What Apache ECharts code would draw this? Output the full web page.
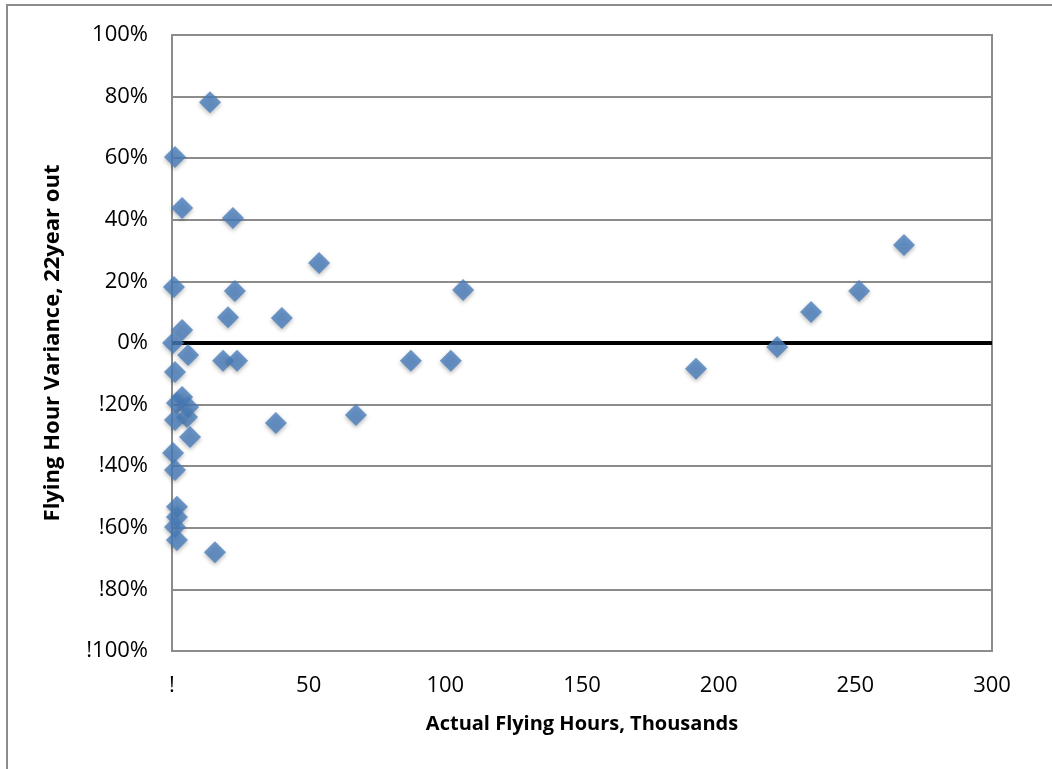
<!DOCTYPE html>
<html>
<head>
<meta charset="utf-8">
<script src="https://cdn.jsdelivr.net/npm/echarts@6/dist/echarts.min.js"></script>
<style>
  html, body { margin: 0; padding: 0; background: #fff; }
  #chart { width: 1052px; height: 769px; }
</style>
</head>
<body>
<div id="chart"></div>
<script>
// flying hours (thousands) and variance (%)
const hours = [
  13.9, 1.1, 3.7, 22.3, 0.7, 23.0, 20.5, 3.7, 0.4,
  18.7, 23.8, 5.9, 1.1, 3.7, 1.8, 5.9, 5.5, 1.1, 6.6, 0.4, 1.1,
  1.8, 1.8, 1.1, 1.8, 15.7,
  53.8, 106.5, 40.2, 87.4, 102.0, 67.3, 38.0,
  267.8, 251.4, 233.8, 221.4, 191.7
]
const variance = [
  78.2, 60.4, 43.8, 40.6, 18.2, 16.9, 8.4, 4.2, 0,
  -5.8, -5.8, -3.9, -9.4, -17.5, -19.5, -20.8, -24.0, -25.0, -30.5, -35.7, -41.2,
  -53.2, -56.5, -59.7, -64.0, -67.9,
  26.0, 17.2, 8.1, -5.8, -5.8, -23.4, -26.0,
  31.8, 16.9, 10.1, -1.3, -8.4
]
const zeroLineX = [0, 300]
const zeroLineY = [0, 0]

const chart = echarts.init(document.getElementById('chart'))
const font = '"Open Sans", sans-serif'

chart.setOption({
  animation: false,
  graphic: [
    {
      type: 'rect',
      shape: { x: 7, y: 5, width: 1200, height: 900 },
      style: { fill: 'none', stroke: '#8c8c8c', lineWidth: 2 },
      silent: true
    }
  ],
  grid: {
    left: 172, top: 35, width: 820, height: 616,
    containLabel: false,
    outerBoundsMode: 'none',
    show: true,
    borderColor: '#8c8c8c',
    borderWidth: 2
  },
  xAxis: {
    type: 'value',
    min: 0, max: 300, interval: 50,
    name: 'Actual Flying Hours, Thousands',
    nameLocation: 'middle',
    nameGap: 63,
    nameTextStyle: { fontFamily: font, fontSize: 20, fontWeight: 'bold', color: '#000' },
    axisLine: { show: true, lineStyle: { color: '#8c8c8c', width: 2 } },
    axisTick: { show: false },
    splitLine: { show: false },
    axisLabel: {
      margin: 24,
      fontFamily: font, fontSize: 22, color: '#000',
      formatter: v => v === 0 ? '!' : String(v)
    }
  },
  yAxis: {
    type: 'value',
    min: -100, max: 100, interval: 20,
    name: 'Flying Hour Variance, 22year out',
    nameLocation: 'middle',
    nameGap: 108,
    nameTextStyle: { fontFamily: font, fontSize: 22, fontWeight: 'bold', color: '#000' },
    axisLine: { show: true, lineStyle: { color: '#8c8c8c', width: 2 } },
    axisTick: { show: false },
    splitLine: { show: true, lineStyle: { color: '#8c8c8c', width: 2 } },
    axisLabel: {
      margin: 24,
      fontFamily: font, fontSize: 22, color: '#000',
      formatter: v => v < 0 ? '!' + (-v) + '%' : v + '%'
    }
  },
  series: [
    {
      type: 'line',
      data: zeroLineX.map((x, i) => [x, zeroLineY[i]]),
      showSymbol: false,
      lineStyle: { color: '#000', width: 4 },
      z: 2
    },
    {
      type: 'scatter',
      data: hours.map((x, i) => [x, variance[i]]),
      symbol: 'diamond',
      symbolSize: [22, 22],
      itemStyle: {
        color: '#4a7ebb',
        shadowColor: 'rgba(0,0,0,0.35)',
        shadowBlur: 4,
        shadowOffsetY: 2
      },
      z: 3
    }
  ]
})
</script>
</body>
</html>
